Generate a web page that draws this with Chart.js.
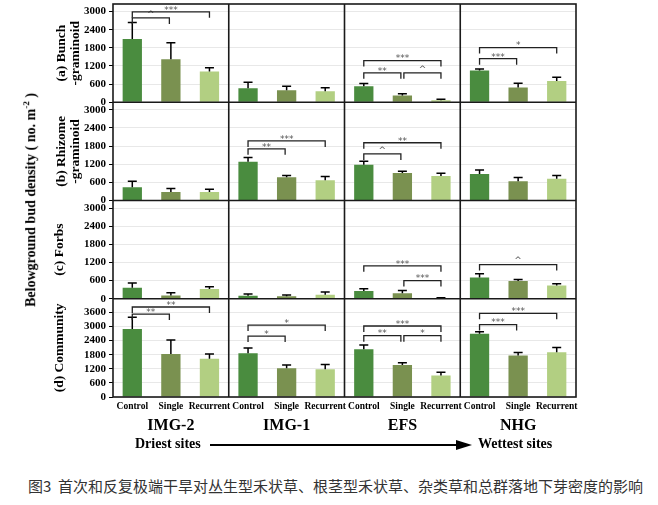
<!DOCTYPE html>
<html>
<head>
<meta charset="utf-8">
<script src="https://cdn.jsdelivr.net/npm/chart.js@4.4.1/dist/chart.umd.min.js"></script>
<style>
  html, body { margin: 0; padding: 0; background: #fff; }
  #wrap { position: relative; width: 658px; height: 505px; overflow: hidden; }
  #chartBox { position: absolute; left: 0; top: 0; width: 658px; height: 440px; }
  .serif { font-family: 'Liberation Serif', 'Times New Roman', serif; font-weight: bold; color: #000; position: absolute; white-space: nowrap; }
  #yLabel { left: 30px; top: 200px; font-size: 14px; transform: translate(-50%, -50%) rotate(-90deg); }
  #yLabel sup { font-size: 9px; }
  #dry { left: 135px; top: 436px; font-size: 14px; }
  #wet { left: 478px; top: 436px; font-size: 14px; }
  #arrowLine { position: absolute; left: 210px; top: 444px; width: 250px; height: 2px; background: #000; }
  #arrowHead { position: absolute; left: 456px; top: 440px; width: 0; height: 0;
    border-top: 5px solid transparent; border-bottom: 5px solid transparent; border-left: 16px solid #000; }
  #caption { position: absolute; left: 28px; top: 475px; font-family: 'Noto Sans CJK SC', sans-serif; font-size: 15px; color: #333; white-space: nowrap; }
</style>
</head>
<body>
<div id="wrap">
  <div id="chartBox"><canvas id="budChart"></canvas></div>
  <div id="yLabel" class="serif">Belowground bud density ( no. m<sup>-2</sup> )</div>
  <div id="dry" class="serif">Driest sites</div>
  <div id="arrowLine"></div>
  <div id="arrowHead"></div>
  <div id="wet" class="serif">Wettest sites</div>
  <div id="caption">图3&nbsp;&nbsp;首次和反复极端干旱对丛生型禾状草、根茎型禾状草、杂类草和总群落地下芽密度的影响</div>
</div>

<script>
// ── 데이터 ──
var sites = ['IMG-2', 'IMG-1', 'EFS', 'NHG'];
var treatments = ['Control', 'Single', 'Recurrent'];
var barColors = ['#4a8c3f', '#7a9150', '#b2cf82'];

// 값 순서: 사이트별 Control, Single, Recurrent
var bunchMean = [2090, 1420, 1020, 460, 400, 360, 530, 220, 70, 1050, 490, 700];
var bunchSE = [550, 550, 120, 200, 130, 120, 90, 60, 30, 50, 140, 130];
var rhizomeMean = [440, 280, 280, 1280, 770, 670, 1180, 910, 810, 880, 640, 720];
var rhizomeSE = [200, 120, 90, 140, 60, 120, 120, 60, 90, 130, 120, 110];
var forbsMean = [360, 110, 320, 100, 80, 130, 260, 180, 20, 700, 590, 440];
var forbsSE = [160, 90, 80, 60, 40, 90, 70, 90, 15, 130, 50, 60];
var communityMean = [2890, 1830, 1630, 1860, 1220, 1180, 2030, 1360, 910, 2690, 1770, 1900];
var communitySE = [500, 590, 200, 220, 140, 200, 180, 100, 140, 90, 120, 210];

// 유의성 표시: [사이트, 처리 from, 처리 to, 높이, 라벨]
var bunchSig = [[0, 0, 1, 2790, '^'], [0, 0, 2, 2990, '***'], [2, 0, 1, 975, '**'], [2, 1, 2, 975, '^'],
  [2, 0, 2, 1380, '***'], [3, 0, 1, 1440, '***'], [3, 0, 2, 1810, '*']];
var rhizomeSig = [[1, 0, 1, 1710, '**'], [1, 0, 2, 1970, '***'], [2, 0, 1, 1540, '^'], [2, 0, 2, 1910, '**']];
var forbsSig = [[2, 0, 2, 1090, '***'], [2, 1, 2, 600, '***'], [3, 0, 2, 1130, '^']];
var communitySig = [[0, 0, 1, 3530, '**'], [0, 0, 2, 3830, '**'], [1, 0, 1, 2590, '*'], [1, 0, 2, 3060, '*'],
  [2, 0, 1, 2610, '**'], [2, 1, 2, 2610, '*'], [2, 0, 2, 3020, '***'], [3, 0, 1, 3080, '***'], [3, 0, 2, 3560, '***']];

// y축 눈금
var yTicks = [0, 600, 1200, 1800, 2400, 3000];
var yTicksCommunity = [0, 600, 1200, 1800, 2400, 3000, 3600];
var yMax = [3250, 3250, 3250, 4180];
var yTitles = [['(a) Bunch', '-graminoid'], ['(b) Rhizome', '-graminoid'], '(c) Forbs', '(d) Community'];

var rows = [
  { mean: bunchMean, se: bunchSE, sig: bunchSig, ticks: yTicks },
  { mean: rhizomeMean, se: rhizomeSE, sig: rhizomeSig, ticks: yTicks },
  { mean: forbsMean, se: forbsSE, sig: forbsSig, ticks: yTicks },
  { mean: communityMean, se: communitySE, sig: communitySig, ticks: yTicksCommunity }
];

var serif = "'Liberation Serif', 'Times New Roman', serif";
Chart.defaults.font.family = serif;

// x축 라벨 (처리명 반복)
var xLabels = [];
sites.forEach(function() { treatments.forEach(function(t) { xLabels.push(t); }); });
var colorList = xLabels.map(function(_, i) { return barColors[i % 3]; });

var datasets = rows.map(function(r, i) {
  return {
    label: 'row' + (i + 1),
    data: r.mean,
    se: r.se,
    sig: r.sig,
    yAxisID: 'y' + (i + 1),
    xAxisID: 'x',
    stack: 'all',
    backgroundColor: colorList,
    borderWidth: 0,
    barPercentage: 0.5,
    categoryPercentage: 1
  };
});

function yAxis(i) {
  var twoLine = Array.isArray(yTitles[i]);
  var tickValues = rows[i].ticks;
  return {
    type: 'linear',
    position: 'left',
    stack: 'rows',
    stackWeight: 1,
    weight: 4 - i,
    stacked: false,
    min: 0,
    max: yMax[i],
    grid: { color: '#e8e8e8', tickColor: '#000', tickLength: 4, lineWidth: 1 },
    border: { display: false },
    ticks: {
      autoSkip: false,
      padding: 3,
      color: '#000',
      font: { family: serif, size: 11, weight: 'bold' },
      callback: function(v) { return String(v); }
    },
    afterBuildTicks: function(s) {
      s.ticks = tickValues.map(function(v) { return { value: v }; });
    },
    title: {
      display: true,
      text: yTitles[i],
      color: '#000',
      font: { family: serif, size: 13.5, weight: 'bold', lineHeight: 1 },
      padding: { top: twoLine ? 15 : 13, bottom: 0 }
    },
    afterFit: function(s) { s.width = 73; s.paddingTop = 0; s.paddingBottom = 0; }
  };
}

// ── 패널 테두리, 오차 막대, 유의성 괄호 ──
var panelPlugin = {
  id: 'panels',
  afterDatasetsDraw: function(chart) {
    var ctx = chart.ctx;
    var area = chart.chartArea;
    var xs = chart.scales.x;

    // 오차 막대
    chart.data.datasets.forEach(function(ds, di) {
      var meta = chart.getDatasetMeta(di);
      var ys = chart.scales[ds.yAxisID];
      ctx.save();
      ctx.strokeStyle = '#000';
      ctx.lineWidth = 1.5;
      meta.data.forEach(function(bar, i) {
        var top = ys.getPixelForValue(ds.data[i] + ds.se[i]);
        ctx.beginPath();
        ctx.moveTo(bar.x, bar.y);
        ctx.lineTo(bar.x, top);
        ctx.moveTo(bar.x - 4.5, top);
        ctx.lineTo(bar.x + 4.5, top);
        ctx.stroke();
      });
      ctx.restore();
    });

    // 패널 테두리
    ctx.save();
    ctx.strokeStyle = '#1a1a1a';
    ctx.lineWidth = 1.6;
    ctx.strokeRect(area.left, area.top, area.right - area.left, area.bottom - area.top);
    ctx.beginPath();
    ['y1', 'y2', 'y3'].forEach(function(id) {
      var b = chart.scales[id].bottom;
      ctx.moveTo(area.left, b);
      ctx.lineTo(area.right, b);
    });
    [3, 6, 9].forEach(function(k) {
      var x = (xs.getPixelForValue(k - 1) + xs.getPixelForValue(k)) / 2;
      ctx.moveTo(x, area.top);
      ctx.lineTo(x, area.bottom);
    });
    ctx.stroke();
    ctx.restore();

    // 유의성 괄호
    chart.data.datasets.forEach(function(ds) {
      var ys = chart.scales[ds.yAxisID];
      ds.sig.forEach(function(s) {
        var i0 = s[0] * 3 + s[1];
        var i1 = s[0] * 3 + s[2];
        var x0 = xs.getPixelForValue(i0) + (s[1] === 1 ? 1.5 : 0);
        var x1 = xs.getPixelForValue(i1) - (s[2] === 1 ? 1.5 : 0);
        var y = ys.getPixelForValue(s[3]);
        ctx.save();
        ctx.strokeStyle = '#222';
        ctx.lineWidth = 1.3;
        ctx.beginPath();
        ctx.moveTo(x0, y + 6);
        ctx.lineTo(x0, y);
        ctx.lineTo(x1, y);
        ctx.lineTo(x1, y + 6);
        ctx.stroke();
        ctx.fillStyle = '#555';
        ctx.font = '9px DejaVu Sans';
        ctx.textAlign = 'center';
        ctx.textBaseline = 'bottom';
        ctx.fillText(s[4], (x0 + x1) / 2, s[4] === '^' ? y + 1 : y + 3);
        ctx.restore();
      });
    });
  }
};

var scales = {
  x: {
    type: 'category',
    labels: xLabels,
    position: 'bottom',
    weight: 0,
    grid: { display: false, drawTicks: false },
    border: { display: false },
    ticks: {
      autoSkip: false, maxRotation: 0, minRotation: 0, padding: 4,
      color: '#000', font: { family: serif, size: 9.5, weight: 'bold' }
    },
    afterFit: function(s) { s.height = 16; s.paddingLeft = 0; s.paddingRight = 0; }
  },
  x2: {
    type: 'category',
    labels: sites,
    position: 'bottom',
    weight: 1,
    grid: { display: false, drawTicks: false },
    border: { display: false },
    ticks: {
      autoSkip: false, maxRotation: 0, minRotation: 0, padding: 3,
      color: '#000', font: { family: serif, size: 16, weight: 'bold' }
    },
    afterFit: function(s) { s.height = 27; s.paddingLeft = 0; s.paddingRight = 0; }
  }
};
for (var i = 0; i < 4; i++) scales['y' + (i + 1)] = yAxis(i);

new Chart(document.getElementById('budChart').getContext('2d'), {
  type: 'bar',
  data: { labels: xLabels, datasets: datasets },
  options: {
    responsive: true,
    maintainAspectRatio: false,
    animation: false,
    layout: { padding: { left: 40, right: 82, top: 4, bottom: 0 } },
    plugins: { legend: { display: false }, tooltip: { enabled: false } },
    scales: scales
  },
  plugins: [panelPlugin]
});
</script>
</body>
</html>
